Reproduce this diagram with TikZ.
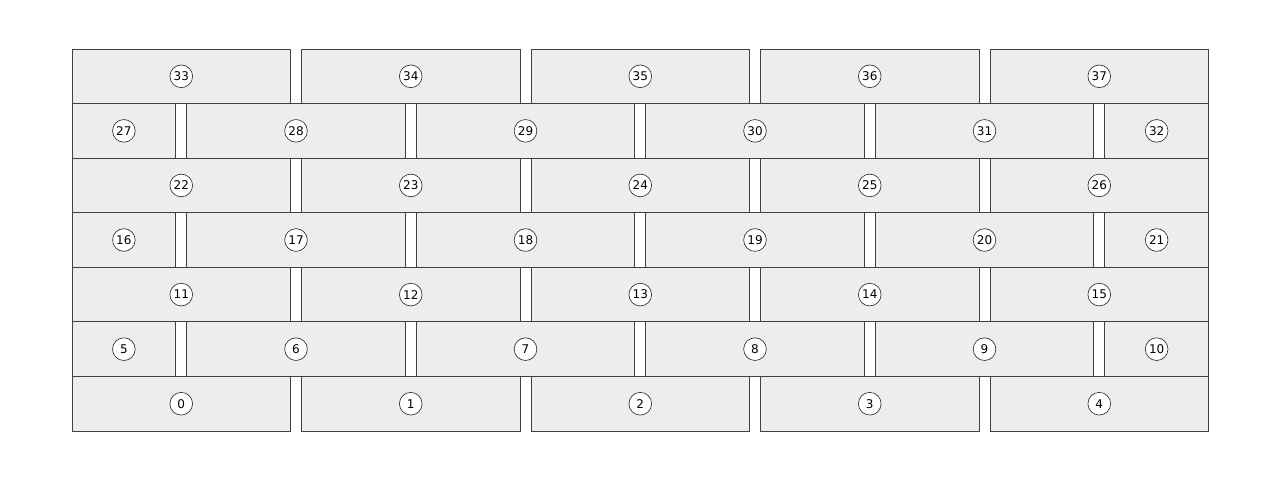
\documentclass[tikz,border=0pt]{standalone}
\usepackage{fontspec}
\setmainfont{DejaVu Sans}
\begin{document}
\begin{tikzpicture}[x=0.75pt,y=-0.75pt,
	brick/.style={draw=black!75, fill=black!7, line width=0.7pt, minimum height=40.93pt, inner sep=0pt, outer sep=0pt, anchor=north west},
	full/.style={brick, minimum width=163.875pt},
	half/.style={brick, minimum width=77.8125pt},
	idcirc/.style={circle, draw=black!80, fill=white, line width=0.5pt, minimum size=17pt, inner sep=0pt, font=\fontsize{9}{10}\selectfont}]
	\useasboundingbox (0,0) rectangle (1280,480);
	% even rows: five full bricks
	\foreach \r in {0,2,4,6}{
		\foreach \k in {0,...,4}{
			\pgfmathtruncatemacro\id{\r/2*11+\k}
			\node[full] (b\id) at ({72+\k*229.5},{431-(\r+1)*54.57}) {};
			\node[idcirc] (c\id) at (b\id.center) {\id};
		}
	}
	% odd rows: half, four full, half
	\foreach \r in {1,3,5}{
		\pgfmathtruncatemacro\first{(\r-1)/2*11+5}
		\pgfmathtruncatemacro\last{\first+5}
		\node[half] (b\first) at (72,{431-(\r+1)*54.57}) {};
		\node[idcirc] (c\first) at (b\first.center) {\first};
		\foreach \k in {1,...,4}{
			\pgfmathtruncatemacro\id{\first+\k}
			\node[full] (b\id) at ({186.75+(\k-1)*229.5},{431-(\r+1)*54.57}) {};
			\node[idcirc] (c\id) at (b\id.center) {\id};
		}
		\node[half] (b\last) at (1104.75,{431-(\r+1)*54.57}) {};
		\node[idcirc] (c\last) at (b\last.center) {\last};
	}
\end{tikzpicture}
\end{document}
